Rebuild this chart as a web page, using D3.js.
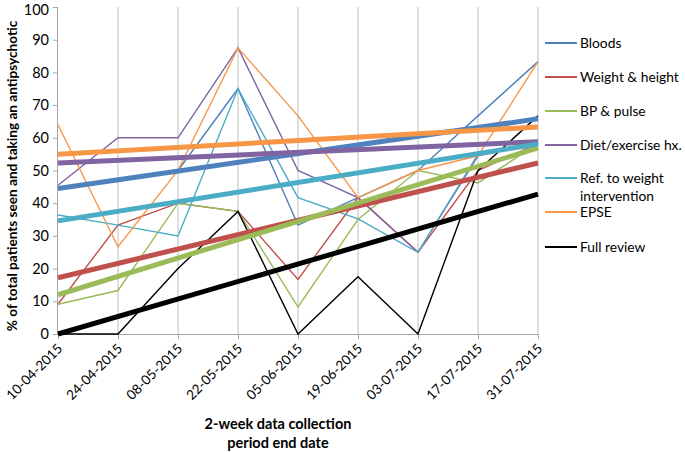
<!DOCTYPE html>
<html><head><meta charset="utf-8">
<script src="https://cdn.jsdelivr.net/npm/d3@7/dist/d3.min.js"></script>
<style>body{margin:0;background:#fff}svg{display:block}text{font-family:Lato,"Open Sans",sans-serif}</style>
</head><body>
<svg id="c" width="685" height="452"></svg>
<script>
const dates = ["10-04-2015","24-04-2015","08-05-2015","22-05-2015","05-06-2015","19-06-2015","03-07-2015","17-07-2015","31-07-2015"];
const yTicks = [0,10,20,30,40,50,60,70,80,90,100];
const seriesNames = ["Bloods","Weight & height","BP & pulse","Diet/exercise hx.","Ref. to weight intervention","EPSE","Full review"];
const legendLabels = [["Bloods"],["Weight & height"],["BP & pulse"],["Diet/exercise hx."],["Ref. to weight","intervention"],["EPSE"],["Full review"]];
const colors = ["#4F81BD","#C0504D","#9BBB59","#8064A2","#4BACC6","#F79646","#000000"];
const bloods    = [44.4, 46.7, 50, 75, 33.3, 41.7, 50, 66.7, 83.3];
const weight    = [9.1, 33.3, 40, 37.5, 16.7, 41.7, 25, 50, 58.3];
const bp        = [9.1, 13.3, 40, 37.5, 8.3, 35, 50, 46.2, 58.3];
const diet      = [45.5, 60, 60, 87.5, 50, 41.7, 25, 54.5, 58.3];
const ref       = [36.4, 33.3, 30, 75, 41.7, 35.2, 25, 55, 58.3];
const epse      = [64, 26.7, 50, 87.5, 66.7, 41.7, 50, 54.5, 83.3];
const full      = [0, 0, 20, 37.5, 0, 17.5, 0, 50, 66.7];
// linear trendline start / end values (first and last period)
const trendStart = [44.5, 17.2, 12, 52.3, 34.6, 55, 0];
const trendEnd   = [65.8, 52.3, 56.9, 58.8, 58.1, 63.3, 42.8];
const values = [bloods, weight, bp, diet, ref, epse, full];

const svg = d3.select("#c");
const x = d3.scalePoint().domain(dates).range([58, 538]);
const y = d3.scaleLinear().domain([0,100]).range([334, 7]);

// vertical gridlines
svg.append("g").selectAll("line").data(dates.slice(1)).join("line")
  .attr("x1", d=>x(d)).attr("x2", d=>x(d)).attr("y1", y(100)).attr("y2", y(0))
  .attr("stroke", "#BFBFBF").attr("stroke-width", 1);

// y axis
const ya = svg.append("g").attr("transform","translate(58,0)")
  .call(d3.axisLeft(y).tickValues(yTicks).tickSize(5).tickPadding(4));
ya.select(".domain").attr("stroke","#A6A6A6").attr("d", `M-0.5,${y(100)}V${y(0)}`);
ya.selectAll(".tick line").attr("stroke","#A6A6A6");
ya.selectAll("text").attr("font-size", 14.5).attr("fill","#000").attr("font-family","Lato")
  .attr("dy", d => d === 100 ? "0.5em" : "0.32em");

// x axis
const xa = svg.append("g").attr("transform",`translate(0,${y(0)})`)
  .call(d3.axisBottom(x).tickSize(5).tickFormat(""));
xa.select(".domain").attr("stroke","#A6A6A6").attr("d", `M58,0.5H538`);
xa.selectAll(".tick line").attr("stroke","#A6A6A6");
svg.append("g").selectAll("text").data(dates).join("text")
  .attr("transform", d=>`translate(${x(d)+2},${y(0)+12}) rotate(-45)`)
  .attr("text-anchor","end").attr("dy","0.35em")
  .attr("font-size", 13.5).text(d=>d);

// data lines
const line = d3.line().x((d,i)=>x(dates[i])).y(d=>y(d));
svg.append("g").selectAll("path").data(values).join("path")
  .attr("d", d=>line(d)).attr("fill","none")
  .attr("stroke",(d,i)=>colors[i]).attr("stroke-width",1.4);

// trendlines
const last = dates[dates.length-1];
svg.append("g").selectAll("line").data(seriesNames).join("line")
  .attr("x1", x(dates[0])).attr("x2", x(last))
  .attr("y1", (d,i)=>y(trendStart[i])).attr("y2",(d,i)=>y(trendEnd[i]))
  .attr("stroke",(d,i)=>colors[i]).attr("stroke-width",5);

// legend
const legY = [43, 77, 111, 145, 178, 212, 247];
const lg = svg.append("g").selectAll("g").data(seriesNames).join("g")
  .attr("transform",(d,i)=>`translate(545,${legY[i]})`);
lg.append("line").attr("x1",0).attr("x2",32).attr("stroke",(d,i)=>colors[i]).attr("stroke-width",2);
lg.append("text").attr("x",35).attr("font-size",13.8)
  .selectAll("tspan").data((d,i)=>legendLabels[i]).join("tspan")
  .attr("x",35).attr("dy",(d,j)=>j===0?"0.35em":"18px").text(d=>d);

// axis titles
svg.append("text").attr("x",278).attr("y",429).attr("text-anchor","middle")
  .attr("font-size",14.5).attr("font-weight","bold").text("2-week data collection");
svg.append("text").attr("x",278).attr("y",448).attr("text-anchor","middle")
  .attr("font-size",14.5).attr("font-weight","bold").text("period end date");
svg.append("text").attr("transform","translate(17,176) rotate(-90)").attr("text-anchor","middle")
  .attr("font-size",13.6).attr("font-weight","bold").text("% of total patients seen and taking an antipsychotic");
</script>
</body></html>
